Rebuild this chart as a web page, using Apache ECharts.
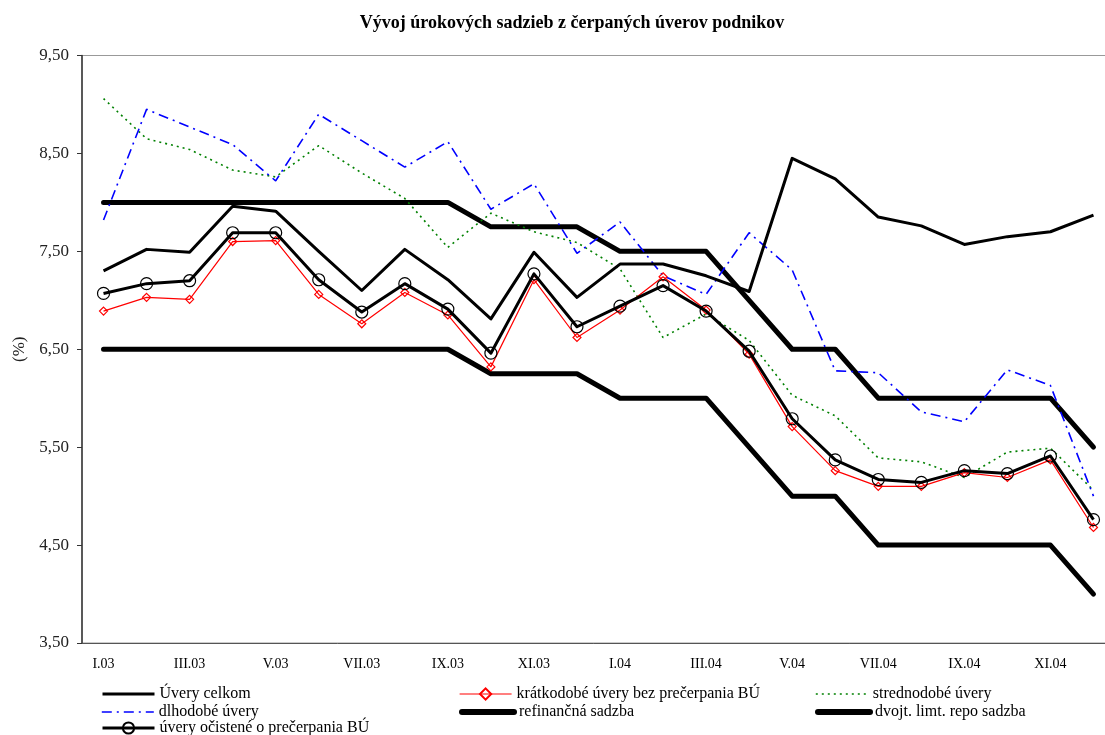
<!DOCTYPE html>
<html>
<head>
<meta charset="utf-8">
<script src="https://cdn.jsdelivr.net/npm/echarts@6/dist/echarts.min.js"></script>
<style>
  html, body { margin: 0; padding: 0; background: #fff; }
  #chart { width: 1105px; height: 735px; }
</style>
</head>
<body>
<div id="chart"></div>
<script>
// Monthly categories, Jan 2003 – Dec 2004
const months = ['I.03','II.03','III.03','IV.03','V.03','VI.03','VII.03','VIII.03','IX.03','X.03','XI.03','XII.03',
                'I.04','II.04','III.04','IV.04','V.04','VI.04','VII.04','VIII.04','IX.04','X.04','XI.04','XII.04'];

// Interest rates (%)
const uveryCelkom = [7.30, 7.52, 7.49, 7.96, 7.91, 7.50, 7.10, 7.52, 7.21, 6.81, 7.49, 7.03,
                     7.37, 7.37, 7.25, 7.09, 8.45, 8.24, 7.85, 7.76, 7.57, 7.65, 7.70, 7.87];
const kratkodobe  = [6.89, 7.03, 7.01, 7.60, 7.61, 7.06, 6.76, 7.08, 6.85, 6.32, 7.21, 6.62,
                     6.90, 7.24, 6.90, 6.45, 5.71, 5.26, 5.10, 5.10, 5.24, 5.19, 5.37, 4.68];
const strednodobe = [9.06, 8.65, 8.54, 8.33, 8.26, 8.58, 8.30, 8.04, 7.54, 7.89, 7.70, 7.59,
                     7.32, 6.62, 6.86, 6.59, 6.03, 5.82, 5.39, 5.35, 5.19, 5.45, 5.49, 5.06];
const dlhodobe    = [7.82, 8.95, 8.77, 8.59, 8.22, 8.90, 8.63, 8.36, 8.62, 7.93, 8.19, 7.48,
                     7.80, 7.25, 7.06, 7.69, 7.31, 6.28, 6.26, 5.86, 5.76, 6.29, 6.13, 5.00];
const refinancna  = [8.00, 8.00, 8.00, 8.00, 8.00, 8.00, 8.00, 8.00, 8.00, 7.75, 7.75, 7.75,
                     7.50, 7.50, 7.50, 7.00, 6.50, 6.50, 6.00, 6.00, 6.00, 6.00, 6.00, 5.50];
const dvojtRepo   = [6.50, 6.50, 6.50, 6.50, 6.50, 6.50, 6.50, 6.50, 6.50, 6.25, 6.25, 6.25,
                     6.00, 6.00, 6.00, 5.50, 5.00, 5.00, 4.50, 4.50, 4.50, 4.50, 4.50, 4.00];
const ocistene    = [7.07, 7.17, 7.20, 7.69, 7.69, 7.21, 6.88, 7.17, 6.91, 6.46, 7.27, 6.73,
                     6.94, 7.15, 6.89, 6.48, 5.79, 5.37, 5.17, 5.14, 5.26, 5.23, 5.41, 4.76];

// Y-axis tick values
const yTicks = [3.5, 4.5, 5.5, 6.5, 7.5, 8.5, 9.5];

const names = {
  celkom: 'Úvery celkom',
  kratko: 'krátkodobé úvery bez prečerpania BÚ',
  stredne: 'strednodobé úvery',
  dlho: 'dlhodobé úvery',
  refi: 'refinančná sadzba',
  repo: 'dvojt. limt. repo sadzba',
  ocist: 'úvery očistené o prečerpania BÚ'
};

const SERIF = '"Liberation Serif", "Times New Roman", serif';

// One legend entry per component so each sits in its own column/row slot.
// lineOnly hides the symbol glyph in the key for series drawn without markers.
function legendAt(name, left, top, lineWidth, lineOnly) {
  const lg = {
    data: [name],
    left: left,
    top: top,
    itemWidth: 52,
    itemHeight: 14,
    padding: 0,
    selectedMode: false,
    lineStyle: { width: lineWidth },
    textStyle: { fontFamily: SERIF, fontSize: 16, color: '#000' }
  };
  if (lineOnly) lg.itemStyle = { opacity: 0 };
  return lg;
}

const chart = echarts.init(document.getElementById('chart'), null, { renderer: 'canvas' });

chart.setOption({
  animation: false,
  backgroundColor: '#fff',
  title: {
    text: 'Vývoj úrokových sadzieb z čerpaných úverov podnikov',
    left: 567,
    textAlign: 'center',
    top: 9,
    textStyle: { fontFamily: SERIF, fontSize: 18, fontWeight: 'bold', color: '#000' }
  },
  grid: {
    left: 82,
    width: 1033,
    top: 55.5,
    bottom: 92,
    outerBoundsMode: 'none',
    containLabel: false,
    show: true,
    borderColor: '#999',
    borderWidth: 1,
    backgroundColor: 'transparent'
  },
  legend: [
    legendAt(names.celkom, 101, 686, 3, true),
    legendAt(names.kratko, 459, 686, 1.2, false),
    legendAt(names.stredne, 815, 686, 1.6, true),
    legendAt(names.dlho, 101, 704, 1.6, true),
    legendAt(names.refi, 459, 704, 6, true),
    legendAt(names.repo, 815, 704, 6, true),
    legendAt(names.ocist, 101, 720, 3, false)
  ],
  xAxis: {
    type: 'category',
    data: months,
    boundaryGap: true,
    axisLine: { lineStyle: { color: '#555', width: 1 } },
    axisTick: { interval: 1, length: 5, lineStyle: { color: '#555' } },
    axisLabel: { interval: 1, margin: 14, fontFamily: SERIF, fontSize: 14, color: '#000' },
    splitLine: { show: false }
  },
  yAxis: {
    type: 'value',
    min: 3.5,
    max: 9.5,
    name: '(%)',
    nameLocation: 'middle',
    nameRotate: 90,
    nameGap: 54,
    nameTextStyle: { fontFamily: SERIF, fontSize: 17, color: '#222' },
    axisLine: { show: true, lineStyle: { color: '#333', width: 1.5 } },
    axisTick: { show: true, length: 5, customValues: yTicks, lineStyle: { color: '#333' } },
    axisLabel: {
      customValues: yTicks,
      margin: 13,
      fontFamily: SERIF,
      fontSize: 17,
      color: '#222',
      formatter: v => v.toFixed(2).replace('.', ',')
    },
    splitLine: { show: false }
  },
  series: [
    {
      name: names.refi, type: 'line', data: refinancna, symbol: 'none',
      lineStyle: { color: '#000', width: 5, cap: 'round', join: 'round' },
      itemStyle: { color: '#000' }, z: 2
    },
    {
      name: names.repo, type: 'line', data: dvojtRepo, symbol: 'none',
      lineStyle: { color: '#000', width: 5, cap: 'round', join: 'round' },
      itemStyle: { color: '#000' }, z: 2
    },
    {
      name: names.stredne, type: 'line', data: strednodobe, symbol: 'none',
      lineStyle: { color: '#008000', width: 1.6, type: [2, 4] },
      itemStyle: { color: '#008000' }, z: 3
    },
    {
      name: names.dlho, type: 'line', data: dlhodobe, symbol: 'none',
      lineStyle: { color: '#0000ff', width: 1.6, type: [10, 5, 2, 5] },
      itemStyle: { color: '#0000ff' }, z: 3
    },
    {
      name: names.celkom, type: 'line', data: uveryCelkom, symbol: 'none',
      lineStyle: { color: '#000', width: 3, join: 'round' },
      itemStyle: { color: '#000' }, z: 4
    },
    {
      name: names.kratko, type: 'line', data: kratkodobe,
      symbol: 'diamond', symbolSize: 8, showSymbol: true,
      lineStyle: { color: '#ff0000', width: 1.2 },
      itemStyle: { color: 'rgba(255,255,255,0)', borderColor: '#ff0000', borderWidth: 1.2 }, z: 5
    },
    {
      name: names.ocist, type: 'line', data: ocistene,
      symbol: 'circle', symbolSize: 12, showSymbol: true,
      lineStyle: { color: '#000', width: 3, join: 'round' },
      itemStyle: { color: 'rgba(255,255,255,0)', borderColor: '#000', borderWidth: 1.2 }, z: 6
    }
  ]
});
</script>
</body>
</html>
